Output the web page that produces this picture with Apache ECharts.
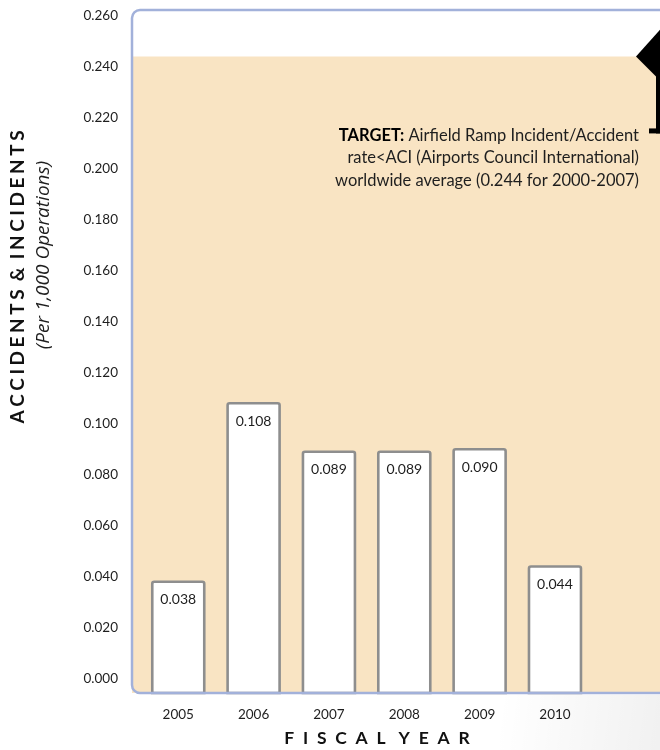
<!DOCTYPE html>
<html>
<head>
<meta charset="utf-8">
<title>Airfield Ramp Incident/Accident Rate</title>
<script src="https://cdn.jsdelivr.net/npm/echarts@6/dist/echarts.min.js"></script>
<style>
  html, body { margin: 0; padding: 0; background: #ffffff; }
  #chart { width: 660px; height: 750px; }
</style>
</head>
<body>
<div id="chart"></div>
<script>
// Fiscal years and accident/incident rates per 1,000 operations
const categories = ['2005', '2006', '2007', '2008', '2009', '2010'];
const rates = [0.038, 0.108, 0.089, 0.089, 0.090, 0.044];
// ACI worldwide average used as the target ceiling
const TARGET = 0.244;
// Value-axis tick labels
const yTicks = [0, 0.02, 0.04, 0.06, 0.08, 0.10, 0.12, 0.14, 0.16, 0.18, 0.20, 0.22, 0.24, 0.26];

// Axis extents: the frame runs a little past 0 and 0.26
const Y_MIN = -0.0056;
const Y_MAX = 0.2622;
const X_MIN = -0.614;
const X_MAX = 6.394;

const GRID = { left: 132, top: 10, right: -20, bottom: 57 };
const FONT = 'Lato, "Open Sans", "DejaVu Sans", sans-serif';
const WIDE_FONT = '"Open Sans", Lato, "DejaVu Sans", sans-serif';
const TEXT = '#1e1e1e';

// Letter-spaced caption text: letters separated by `sep`, words by a space plus `sep`
const spaced = (s, sep) => s.split(' ').map(w => w.split('').join(sep)).join(' ' + sep);

const chart = echarts.init(document.getElementById('chart'), null, { renderer: 'canvas' });

const option = {
  animation: false,
  backgroundColor: '#ffffff',
  grid: { left: GRID.left, top: GRID.top, right: GRID.right, bottom: GRID.bottom, containLabel: false },
  xAxis: {
    type: 'value',
    min: X_MIN,
    max: X_MAX,
    axisLine: { show: false },
    axisTick: { show: false },
    splitLine: { show: false },
    axisLabel: {
      customValues: categories.map((c, i) => i),
      formatter: v => categories[Math.round(v)],
      color: TEXT,
      fontFamily: FONT,
      fontSize: 13.5,
      margin: 15
    }
  },
  yAxis: {
    type: 'value',
    min: Y_MIN,
    max: Y_MAX,
    axisLine: { show: false },
    axisTick: { show: false },
    splitLine: { show: false },
    axisLabel: {
      customValues: yTicks,
      formatter: v => v.toFixed(3),
      color: TEXT,
      fontFamily: FONT,
      fontSize: 13.5,
      margin: 14
    }
  },
  series: [
    {
      // beige band from the bottom of the frame up to the target rate
      type: 'line',
      data: [],
      z: 1,
      silent: true,
      markArea: {
        silent: true,
        itemStyle: { color: '#f9e4c3' },
        data: [[{ yAxis: Y_MIN }, { yAxis: TARGET }]]
      }
    },
    {
      type: 'custom',
      z: 3,
      data: rates.map((v, i) => [i, v]),
      renderItem: (params, api) => {
        const x = api.value(0);
        const v = api.value(1);
        const top = api.coord([x, v]);
        const base = api.coord([x, Y_MIN]);
        const w = api.size([1, 0])[0] * 0.69;
        return {
          type: 'group',
          children: [
            {
              type: 'rect',
              shape: { x: top[0] - w / 2, y: top[1], width: w, height: base[1] - top[1], r: [2, 2, 0, 0] },
              style: { fill: '#ffffff', stroke: '#8e8e8e', lineWidth: 2.6 }
            },
            {
              type: 'text',
              style: {
                text: v.toFixed(3),
                x: top[0],
                y: top[1] + 18,
                align: 'center',
                verticalAlign: 'middle',
                fill: TEXT,
                font: '14px ' + FONT
              }
            }
          ]
        };
      }
    }
  ]
};

chart.setOption(option);

// Annotation graphics placed from the axis scale
const yTarget = chart.convertToPixel({ gridIndex: 0 }, [0, TARGET])[1];
const frameW = 660 - GRID.left - GRID.right;
const frameH = 750 - GRID.top - GRID.bottom;

chart.setOption({
  graphic: [
    {
      // faint shadow below the frame on the right
      type: 'rect',
      silent: true,
      z: 0,
      shape: { x: 500, y: 695, width: 160, height: 55 },
      style: {
        fill: {
          type: 'linear', x: 0, y: 0, x2: 1, y2: 0.4,
          colorStops: [
            { offset: 0, color: 'rgba(0,0,0,0)' },
            { offset: 1, color: 'rgba(0,0,0,0.055)' }
          ]
        }
      }
    },
    {
      // plot frame
      type: 'rect',
      silent: true,
      z: 5,
      shape: { x: GRID.left, y: GRID.top, width: frameW, height: frameH, r: [8, 0, 0, 8] },
      style: { fill: null, stroke: '#a2b1da', lineWidth: 2.5 }
    },
    {
      // target arrow pointing at the band edge
      type: 'polygon',
      silent: true,
      z: 6,
      shape: { points: [[636, yTarget], [664, yTarget - 31], [664, yTarget + 21], [657, yTarget + 21]] },
      style: { fill: '#000000' }
    },
    {
      type: 'rect',
      silent: true,
      z: 6,
      shape: { x: 656, y: yTarget + 15, width: 10, height: 62 },
      style: { fill: '#000000' }
    },
    {
      type: 'rect',
      silent: true,
      z: 6,
      shape: { x: 649, y: yTarget + 72, width: 12, height: 5 },
      style: { fill: '#000000' }
    },
    {
      type: 'text',
      silent: true,
      z: 6,
      style: {
        text: '{b|TARGET:} Airfield Ramp Incident/Accident\nrate<ACI (Airports Council International)\nworldwide average (' + TARGET.toFixed(3) + ' for 2000-2007)',
        x: 639,
        y: yTarget + 68,
        align: 'right',
        verticalAlign: 'top',
        font: '16.5px ' + FONT,
        fill: TEXT,
        lineHeight: 22.5,
        rich: {
          b: { fontWeight: 'bold', fontSize: 16.5, fontFamily: FONT, fill: '#000000', lineHeight: 22.5 }
        }
      }
    },
    {
      type: 'text',
      silent: true,
      z: 6,
      x: 18,
      y: 277,
      rotation: Math.PI / 2,
      style: {
        text: spaced('ACCIDENTS & INCIDENTS', '\u2009\u200A'),
        x: 0, y: 0,
        align: 'center',
        verticalAlign: 'middle',
        font: 'bold 19px ' + FONT,
        fill: '#111111'
      }
    },
    {
      type: 'text',
      silent: true,
      z: 6,
      x: 44,
      y: 255,
      rotation: Math.PI / 2,
      style: {
        text: '(Per 1,000 Operations)',
        x: 0, y: 0,
        align: 'center',
        verticalAlign: 'middle',
        font: 'italic 19px ' + WIDE_FONT,
        fill: TEXT
      }
    },
    {
      type: 'text',
      silent: true,
      z: 6,
      style: {
        text: spaced('FISCAL YEAR', '\u2002'),
        x: 377,
        y: 738,
        align: 'center',
        verticalAlign: 'middle',
        font: 'bold 17.5px ' + FONT,
        fill: '#111111'
      }
    }
  ]
});
</script>
</body>
</html>
